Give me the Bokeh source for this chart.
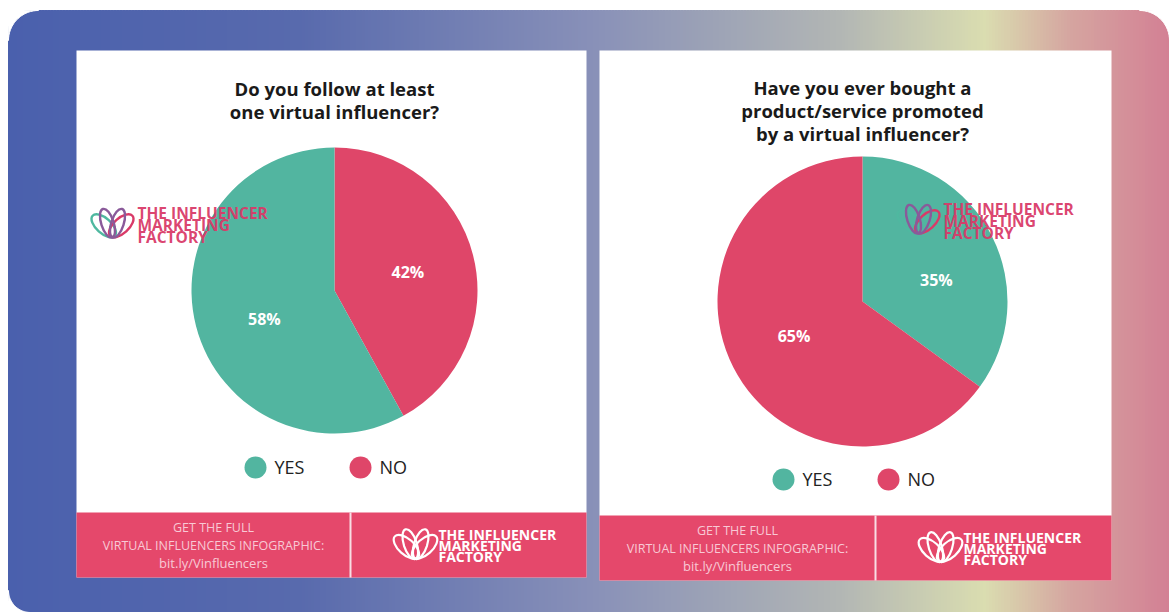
import numpy as np
from bokeh.plotting import figure
from bokeh.models import Range1d, ColumnDataSource
from bokeh.embed import file_html
from bokeh.resources import INLINE
from bokeh.core.properties import value

# ---------------- data ----------------
categories = ["YES", "NO"]
q1_title = ["Do you follow at least", "one virtual influencer?"]
q1_values = {"YES": 58, "NO": 42}
q1_order = ["NO", "YES"]          # clockwise from 12 o'clock
q2_title = ["Have you ever bought a", "product/service promoted", "by a virtual influencer?"]
q2_values = {"YES": 35, "NO": 65}
q2_order = ["YES", "NO"]          # clockwise from 12 o'clock
footer_lines = ["GET THE FULL", "VIRTUAL INFLUENCERS INFOGRAPHIC:", "bit.ly/Vinfluencers"]
brand_lines = ["THE INFLUENCER", "MARKETING", "FACTORY"]

# ---------------- style ----------------
COL = {"YES": "#52B5A0", "NO": "#DF4669"}
FOOTER = "#E5486B"
FONT = "Open Sans"
W, H = 1169, 612


def Y(y):
    return H - y


p = figure(width=W, height=H, x_range=Range1d(0, W), y_range=Range1d(0, H),
           output_backend="svg", toolbar_location=None, min_border=0)
p.axis.visible = False
p.grid.visible = False
p.outline_line_color = None
p.background_fill_color = "white"
p.border_fill_color = "white"

# ---------------- gradient background (vertical bands) ----------------
gx0, gy0 = 8, 10
stops_x = [8, 300, 590, 840, 985, 1070, 1169]
stops_c = [(74, 96, 173), (88, 106, 173), (136, 144, 184), (178, 182, 180),
           (218, 221, 176), (213, 165, 160), (211, 128, 148)]
edges = np.arange(gx0, W + 3, 3).astype(float)
edges[-1] = W
mid = (edges[:-1] + edges[1:]) / 2
band_cols = []
for m in mid:
    c = [int(round(np.interp(m, stops_x, [s[i] for s in stops_c]))) for i in range(3)]
    band_cols.append("#%02x%02x%02x" % tuple(c))
p.quad(left=edges[:-1], right=edges[1:], top=Y(gy0), bottom=Y(H), fill_color=band_cols,
       line_color=band_cols, line_width=1)


# white patches that round the outer corners
def corner_patch(ox, oy, cx, cy, r, a0, a1):
    t = np.linspace(np.deg2rad(a0), np.deg2rad(a1), 30)
    xs = [ox] + list(cx + r * np.cos(t))
    ys = [Y(oy)] + list(Y(cy) + r * np.sin(t))
    p.patch(x=xs, y=ys, fill_color="white", line_color="white", line_width=1)


corner_patch(gx0 - 1, gy0 - 1, gx0 + 30, gy0 + 30, 30, 90, 180)
corner_patch(W + 1, gy0 - 1, W - 30, gy0 + 30, 30, 0, 90)
corner_patch(gx0 - 1, H + 1, gx0 + 22, H - 22, 22, 180, 270)


# ---------------- logo helpers ----------------
def lotus(cx, cy, s, colors, lw=2.2):
    p.ellipse(x=cx - 7 * s, y=Y(cy + 1 * s), width=12 * s, height=24 * s, angle=np.deg2rad(48),
              fill_alpha=0, line_color=colors[0], line_width=lw)
    p.ellipse(x=cx + 7 * s, y=Y(cy + 1 * s), width=12 * s, height=24 * s, angle=np.deg2rad(-48),
              fill_alpha=0, line_color=colors[2], line_width=lw)
    p.ellipse(x=cx - 4 * s, y=Y(cy - 1 * s), width=10 * s, height=24 * s, angle=np.deg2rad(18),
              fill_alpha=0, line_color=colors[1], line_width=lw)
    p.ellipse(x=cx + 4 * s, y=Y(cy - 1 * s), width=10 * s, height=24 * s, angle=np.deg2rad(-18),
              fill_alpha=0, line_color=colors[1], line_width=lw)


def brand(x, y, size, color, step, alpha=1.0):
    for i, t in enumerate(brand_lines):
        p.text(x=[x], y=[Y(y + i * step)], text=[t], text_font=value(FONT),
               text_font_style="bold", text_font_size=f"{size}px", text_color=color,
               text_alpha=alpha, text_align="left", text_baseline="middle")


# ---------------- panels ----------------
def panel(left, right, top, bottom, ftop, divider, title, tcx, ty0, vals, order,
          cx, cy, r, leg_y, leg_x, wm, label_pos, label_turn):
    p.quad(left=[left], right=[right], top=[Y(top)], bottom=[Y(bottom)],
           fill_color="white", line_color=None)
    p.quad(left=[left], right=[right], top=[Y(ftop)], bottom=[Y(bottom)],
           fill_color=FOOTER, line_color=None)
    p.segment(x0=[divider], y0=[Y(ftop)], x1=[divider], y1=[Y(bottom)],
              line_color="#F8DDE4", line_width=2)
    for i, t in enumerate(title):
        p.text(x=[tcx], y=[Y(ty0 + i * 23)], text=[t], text_font=value(FONT),
               text_font_style="bold", text_font_size="18.5px", text_color="#1A1A1A",
               text_align="center", text_baseline="middle")
    total = sum(vals[k] for k in order)
    start = np.pi / 2
    starts, ends, cols, mids, labs = [], [], [], [], []
    for k in order:
        sweep = 2 * np.pi * vals[k] / total
        starts.append(start)
        ends.append(start - sweep)
        mids.append(start - sweep / 2 + np.deg2rad(label_turn.get(k, 0)))
        cols.append(COL[k])
        labs.append(f"{vals[k]}%")
        start -= sweep
    src = ColumnDataSource(dict(start=starts, end=ends, color=cols))
    p.wedge(x=cx, y=Y(cy), radius=r, start_angle="start", end_angle="end",
            direction="clock", fill_color="color", line_color=None, source=src)
    lotus(wm[0], wm[1], 1.25, ["#4FB8A0", "#8A5A9A", "#D93A68"], lw=2.4)
    brand(wm[0] + 25, wm[1] - 12, 15.5, "#D93A68", 12, alpha=0.95)
    lx = [cx + label_pos * r * np.cos(m) for m in mids]
    ly = [Y(cy) + label_pos * r * np.sin(m) for m in mids]
    p.text(x=lx, y=ly, text=labs, text_font=value(FONT), text_font_style="bold",
           text_font_size="16px", text_color="white", text_align="center",
           text_baseline="middle")
    for k, xx in zip(categories, leg_x):
        p.circle(x=[xx], y=[Y(leg_y)], radius=11, fill_color=COL[k], line_color=None)
        p.text(x=[xx + 19], y=[Y(leg_y - 1)], text=[k], text_font=value(FONT),
               text_font_size="18px", text_color="#222222", text_align="left",
               text_baseline="middle")
    fcx = (left + divider) / 2
    for i, t in enumerate(footer_lines):
        p.text(x=[fcx], y=[Y(ftop + 15 + i * 17.5)], text=[t], text_font=value(FONT),
               text_font_size="12.5px" if i < 2 else "13px", text_color="#F8C9D5",
               text_align="center", text_baseline="middle")
    lotus(divider + 65, ftop + 33, 1.3, ["white", "white", "white"], lw=2.2)
    brand(divider + 88, ftop + 22, 14, "white", 11)


panel(76, 586, 50, 577, 512, 350, q1_title, 334, 88, q1_values, q1_order,
      334, 290, 143, 467, [255, 360], (112, 224), 0.53, {"YES": 8})
panel(599, 1111, 50, 580, 515, 875, q2_title, 862, 87, q2_values, q2_order,
      862, 301, 145, 479, [783, 888], (918, 220), 0.53, {"YES": -11})

open("out.html", "w").write(file_html(p, INLINE))
